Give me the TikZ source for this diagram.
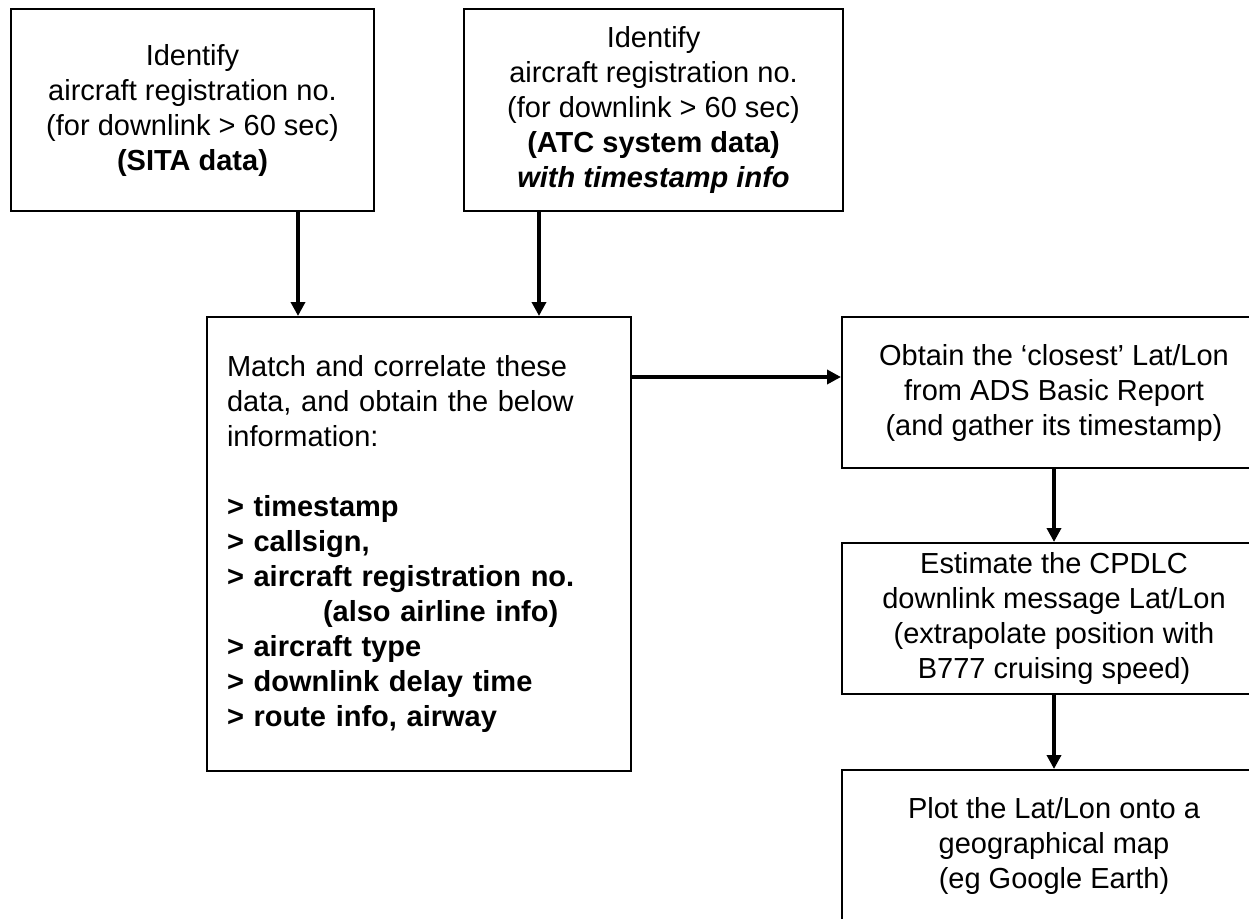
\documentclass[tikz,border=0pt]{standalone}
\usepackage{fontspec}
\setmainfont{Liberation Sans}
\usetikzlibrary{arrows.meta}
\begin{document}
\begin{tikzpicture}[x=1pt,y=-1pt,
        box/.style={draw,line width=2pt,inner sep=0pt,align=center,
            font=\fontsize{29}{35}\selectfont},
        flow/.style={-{Triangle[width=14pt,length=14pt]},line width=3.5pt}]
            \useasboundingbox (0,0) rectangle (1249,918);
            \clip (0,0) rectangle (1249,918);

            \node[box,minimum width=363pt,minimum height=202pt] (sita) at (192.5,110)
                {Identify\\aircraft registration no.\\(for downlink > 60 sec)\\\textbf{(SITA data)}};
            \node[box,minimum width=379pt,minimum height=202pt] (atc) at (653.5,110)
                {Identify\\aircraft registration no.\\(for downlink > 60 sec)\\\textbf{(ATC system data)}\\\textbf{\textit{with timestamp info}}};

            \node[box,minimum width=424pt,minimum height=454pt,text width=384pt,align=left] (match) at (419,544)
                {Match and correlate these\\data, and obtain the below\\information:\\[35pt]
                 \textbf{> timestamp}\\\textbf{> callsign,}\\\textbf{> aircraft registration no.}\\
                 \hspace*{96pt}\textbf{(also airline info)}\\\textbf{> aircraft type}\\
                 \textbf{> downlink delay time}\\\textbf{> route info, airway}};

            \node[box,minimum width=424pt,minimum height=151pt] (closest) at (1054,392.5)
                {Obtain the ‘closest’ Lat/Lon\\from ADS Basic Report\\(and gather its timestamp)};
            \node[box,minimum width=424pt,minimum height=151pt] (estimate) at (1054,618.5)
                {Estimate the CPDLC\\downlink message Lat/Lon\\(extrapolate position with\\B777 cruising speed)};
            \node[box,minimum width=424pt,minimum height=151pt] (plot) at (1054,845.5)
                {Plot the Lat/Lon onto a\\geographical map\\(eg Google Earth)};

            \draw[flow] ([xshift=105.5pt]sita.south) -- ([xshift=105.5pt]sita.south |- match.north);
            \draw[flow] ([xshift=-114.5pt]atc.south) -- ([xshift=-114.5pt]atc.south |- match.north);

            \coordinate (tap) at ([yshift=15.5pt]closest.west);
            \draw[flow] (tap -| match.east) -- (tap);
            \draw[flow] (closest) -- (estimate);
            \draw[flow] (estimate) -- (plot);
        \end{tikzpicture}
\end{document}
